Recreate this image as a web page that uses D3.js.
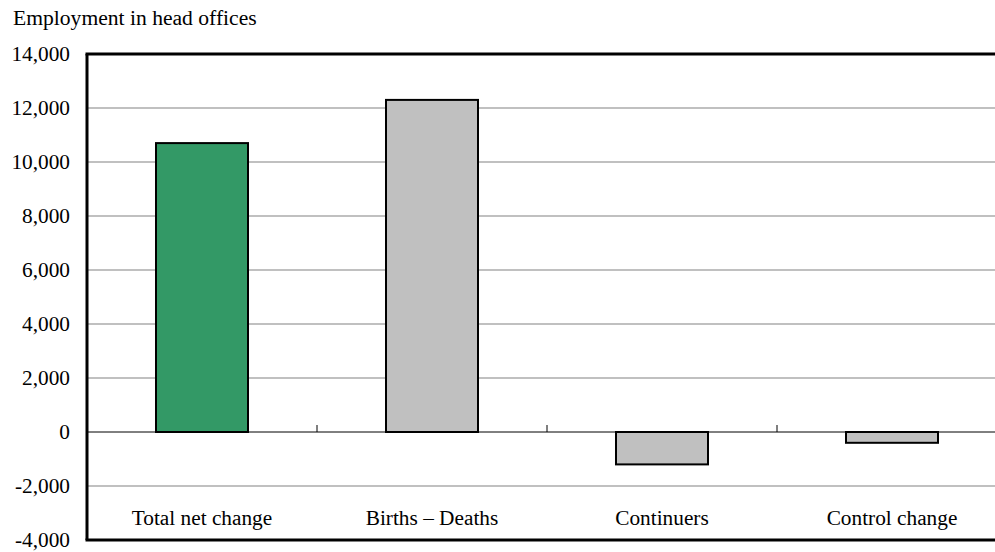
<!DOCTYPE html>
<html>
<head>
<meta charset="utf-8">
<script src="https://cdn.jsdelivr.net/npm/d3@7"></script>
<style>
  html, body { margin: 0; padding: 0; background: #fff; }
  svg text { font-family: "Liberation Serif", "Times New Roman", "DejaVu Serif", serif !important; }
</style>
</head>
<body>
<svg id="chart" width="995" height="552"></svg>
<script>
// Employment change in head offices, by component
const categories = ["Total net change", "Births \u2013 Deaths", "Continuers", "Control change"];
const values = [10700, 12300, -1200, -400];
const barColors = ["#339966", "#c0c0c0", "#c0c0c0", "#c0c0c0"];
const yTicks = [-4000, -2000, 0, 2000, 4000, 6000, 8000, 10000, 12000, 14000];
const title = "Employment in head offices";

const svg = d3.select("#chart");
const plotLeft = 87, plotRight = 1007, plotTop = 54, plotBottom = 540, edge = 995;
const fontSize = 21.3;

const x = d3.scaleBand()
  .domain(categories)
  .range([plotLeft, plotRight])
  .paddingInner(0.6)
  .paddingOuter(0.3);

const xCat = d3.scaleBand().domain(categories).range([plotLeft, plotRight]).padding(0);

const y = d3.scaleLinear().domain([-4000, 14000]).range([plotBottom, plotTop]);

// title
svg.append("text")
  .attr("x", 13).attr("y", 25)
  .attr("font-size", 21.6)
  .attr("fill", "#000")
  .text(title);

// horizontal gridlines
svg.append("g")
  .selectAll("line")
  .data(yTicks.filter(d => d !== 0 && d !== -4000 && d !== 14000))
  .join("line")
  .attr("x1", plotLeft).attr("x2", edge)
  .attr("y1", d => y(d)).attr("y2", d => y(d))
  .attr("stroke", "#c0c0c0")
  .attr("stroke-width", 2);

// y axis labels (plain hyphen for negatives)
const fmt = d3.format(",");
const yAxis = d3.axisLeft(y)
  .tickValues(yTicks)
  .tickSize(0)
  .tickPadding(17)
  .tickFormat(d => fmt(d).replace("\u2212", "-"));
const yg = svg.append("g").attr("transform", `translate(${plotLeft},0)`).call(yAxis);
yg.select(".domain").remove();
yg.attr("font-family", null).attr("font-size", null);
yg.selectAll("text")
  .attr("font-size", fontSize)
  .attr("fill", "#000");

// bars
svg.append("g")
  .selectAll("rect")
  .data(categories)
  .join("rect")
  .attr("x", d => x(d))
  .attr("width", x.bandwidth())
  .attr("y", (d, i) => y(Math.max(0, values[i])))
  .attr("height", (d, i) => Math.abs(y(values[i]) - y(0)))
  .attr("fill", (d, i) => barColors[i])
  .attr("stroke", "#000")
  .attr("stroke-width", 2);

// zero line with category separators
svg.append("line")
  .attr("x1", plotLeft).attr("x2", edge)
  .attr("y1", y(0)).attr("y2", y(0))
  .attr("stroke", "#000").attr("stroke-width", 1);
svg.append("g")
  .selectAll("line")
  .data(categories.slice(1))
  .join("line")
  .attr("x1", d => xCat(d)).attr("x2", d => xCat(d))
  .attr("y1", y(0)).attr("y2", y(0) - 7)
  .attr("stroke", "#000").attr("stroke-width", 1);

// category labels
svg.append("g")
  .selectAll("text")
  .data(categories)
  .join("text")
  .attr("x", d => xCat(d) + xCat.bandwidth() / 2)
  .attr("y", 525)
  .attr("text-anchor", "middle")
  .attr("font-size", fontSize)
  .attr("fill", "#000")
  .text(d => d);

// frame: top, left, bottom
svg.append("line").attr("x1", plotLeft - 1.5).attr("x2", edge).attr("y1", plotTop).attr("y2", plotTop)
  .attr("stroke", "#000").attr("stroke-width", 3);
svg.append("line").attr("x1", plotLeft - 1.5).attr("x2", edge).attr("y1", plotBottom).attr("y2", plotBottom)
  .attr("stroke", "#000").attr("stroke-width", 3);
svg.append("line").attr("x1", plotLeft).attr("x2", plotLeft).attr("y1", plotTop).attr("y2", plotBottom)
  .attr("stroke", "#000").attr("stroke-width", 3);
</script>
</body>
</html>
